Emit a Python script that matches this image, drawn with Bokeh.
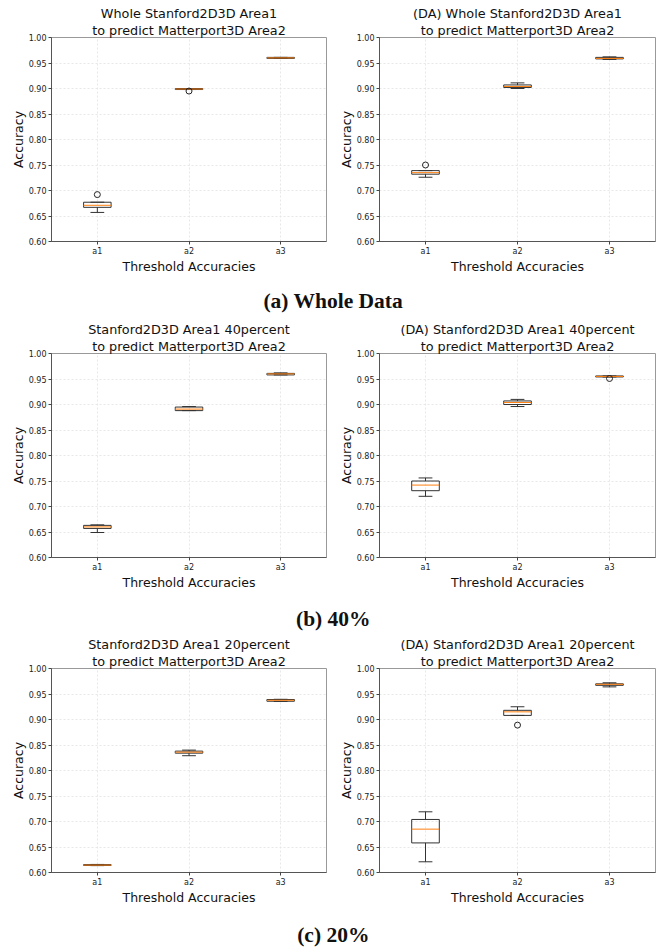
from bokeh.plotting import figure
from bokeh.layouts import column, row
from bokeh.models import Range1d, FixedTicker, Title
from bokeh.core.properties import value
from bokeh.embed import file_html
from bokeh.resources import INLINE

categories = ["a1", "a2", "a3"]

# Panel 1: Whole Stanford2D3D Area1
p1_low = [0.657, 0.898, 0.959]
p1_q1 = [0.667, 0.898, 0.959]
p1_med = [0.671, 0.899, 0.960]
p1_q3 = [0.677, 0.900, 0.961]
p1_high = [0.677, 0.900, 0.961]
p1_out_cat = ["a1", "a2"]
p1_out_val = [0.692, 0.895]

# Panel 2: (DA) Whole
p2_low = [0.726, 0.900, 0.957]
p2_q1 = [0.732, 0.902, 0.958]
p2_med = [0.735, 0.904, 0.959]
p2_q3 = [0.739, 0.907, 0.961]
p2_high = [0.739, 0.911, 0.962]
p2_out_cat = ["a1"]
p2_out_val = [0.750]

# Panel 3: 40percent
p3_low = [0.649, 0.888, 0.958]
p3_q1 = [0.657, 0.888, 0.958]
p3_med = [0.660, 0.891, 0.960]
p3_q3 = [0.663, 0.895, 0.961]
p3_high = [0.664, 0.896, 0.962]
p3_out_cat = []
p3_out_val = []

# Panel 4: (DA) 40percent
p4_low = [0.720, 0.896, 0.954]
p4_q1 = [0.731, 0.900, 0.954]
p4_med = [0.742, 0.904, 0.955]
p4_q3 = [0.750, 0.907, 0.956]
p4_high = [0.756, 0.910, 0.956]
p4_out_cat = ["a3"]
p4_out_val = [0.951]

# Panel 5: 20percent
p5_low = [0.6135, 0.829, 0.9355]
p5_q1 = [0.6138, 0.834, 0.9358]
p5_med = [0.6145, 0.836, 0.9377]
p5_q3 = [0.6155, 0.838, 0.9392]
p5_high = [0.6158, 0.840, 0.9396]
p5_out_cat = []
p5_out_val = []

# Panel 6: (DA) 20percent
p6_low = [0.621, 0.908, 0.964]
p6_q1 = [0.658, 0.908, 0.967]
p6_med = [0.685, 0.915, 0.969]
p6_q3 = [0.704, 0.918, 0.970]
p6_high = [0.719, 0.925, 0.972]
p6_out_cat = ["a2"]
p6_out_val = [0.889]

title_line1 = [
    "Whole Stanford2D3D Area1",
    "(DA) Whole Stanford2D3D Area1",
    "Stanford2D3D Area1 40percent",
    "(DA) Stanford2D3D Area1 40percent",
    "Stanford2D3D Area1 20percent",
    "(DA) Stanford2D3D Area1 20percent",
]
title_line2 = "to predict Matterport3D Area2"
captions = ["(a) Whole Data", "(b) 40%", "(c) 20%"]
y_ticks = [0.60, 0.65, 0.70, 0.75, 0.80, 0.85, 0.90, 0.95, 1.00]

FONT = "DejaVu Sans"
BOX_W = 0.3
CAP_W = 0.15
PANEL_H = 279


def make_panel(line1, low, q1, med, q3, high, out_cat, out_val, left_side):
    if left_side:
        bl, br, w = 51, 4, 330
    else:
        bl, br, w = 49, 4, 329
    p = figure(width=w, height=PANEL_H, output_backend="svg", toolbar_location=None,
               x_range=Range1d(0.5, 3.5), y_range=Range1d(0.6, 1.0),
               min_border_left=bl, min_border_right=br, min_border_top=37,
               min_border_bottom=38)
    for txt in (title_line2, line1):
        t = Title(text=txt, align="center", text_font=FONT, text_font_size="12.8px",
                  text_font_style="normal", text_color="#111111", standoff=0, offset=0)
        p.add_layout(t, "above")

    xs = [categories.index(c) + 1 for c in categories]
    xo = [categories.index(c) + 1 for c in out_cat]

    # whiskers
    p.segment(x0=xs, y0=q3, x1=xs, y1=high, line_color="#333333", line_width=1)
    p.segment(x0=xs, y0=q1, x1=xs, y1=low, line_color="#333333", line_width=1)
    p.segment(x0=[x - CAP_W / 2 for x in xs], y0=high, x1=[x + CAP_W / 2 for x in xs], y1=high,
              line_color="#333333", line_width=1)
    p.segment(x0=[x - CAP_W / 2 for x in xs], y0=low, x1=[x + CAP_W / 2 for x in xs], y1=low,
              line_color="#333333", line_width=1)
    # boxes
    p.quad(left=[x - BOX_W / 2 for x in xs], right=[x + BOX_W / 2 for x in xs],
           bottom=q1, top=q3, fill_color="white", fill_alpha=0.0,
           line_color="#333333", line_width=1)
    # medians
    p.segment(x0=[x - BOX_W / 2 for x in xs], y0=med, x1=[x + BOX_W / 2 for x in xs], y1=med,
              line_color="#ff7f0e", line_width=1)
    # outliers
    if out_val:
        p.scatter(x=xo, y=out_val, marker="circle", size=6, fill_color=None,
                  line_color="#222222", line_width=1)

    p.xaxis.ticker = FixedTicker(ticks=xs)
    p.xaxis.major_label_overrides = {x: c for x, c in zip(xs, categories)}
    p.yaxis.ticker = FixedTicker(ticks=y_ticks)
    p.yaxis.major_label_overrides = {t: f"{t:.2f}" for t in y_ticks}
    for ax in (p.xaxis, p.yaxis):
        ax.major_label_text_font = FONT
        ax.major_label_text_font_size = "8px"
        ax.major_label_text_color = "#222222"
        ax.axis_label_text_font = FONT
        ax.axis_label_text_font_size = "12.5px"
        ax.axis_label_text_font_style = "normal"
        ax.axis_label_text_color = "#111111"
        ax.minor_tick_line_color = None
        ax.major_tick_in = 0
        ax.major_tick_out = 3
        ax.major_tick_line_color = "#444444"
        ax.axis_line_color = "#555555"
        ax.major_label_standoff = 2
    p.xaxis.axis_label = "Threshold Accuracies"
    p.yaxis.axis_label = "Accuracy"
    p.xaxis.axis_label_standoff = 0
    p.yaxis.axis_label_standoff = 0

    p.grid.grid_line_color = "#e6e6e6"
    p.grid.grid_line_dash = "2 2"
    p.grid.grid_line_alpha = 0.9
    p.xgrid.ticker = FixedTicker(ticks=xs)
    p.ygrid.ticker = FixedTicker(ticks=y_ticks)
    p.outline_line_color = "#999999"
    p.outline_line_width = 1
    p.background_fill_color = "white"
    p.border_fill_color = "white"
    return p


def make_caption(text, h, ypos):
    c = figure(width=659, height=h, output_backend="svg", toolbar_location=None,
               x_range=Range1d(0, 1), y_range=Range1d(0, 1),
               x_axis_location=None, y_axis_location=None,
               min_border=0)
    c.grid.visible = False
    c.outline_line_color = None
    c.text(x=[0.505], y=[ypos], text=[text], text_align="center", text_baseline="middle",
           text_font=value("Liberation Serif"), text_font_style="bold",
           text_font_size="21.5px", text_color="#111111")
    return c


panels = [
    (p1_low, p1_q1, p1_med, p1_q3, p1_high, p1_out_cat, p1_out_val),
    (p2_low, p2_q1, p2_med, p2_q3, p2_high, p2_out_cat, p2_out_val),
    (p3_low, p3_q1, p3_med, p3_q3, p3_high, p3_out_cat, p3_out_val),
    (p4_low, p4_q1, p4_med, p4_q3, p4_high, p4_out_cat, p4_out_val),
    (p5_low, p5_q1, p5_med, p5_q3, p5_high, p5_out_cat, p5_out_val),
    (p6_low, p6_q1, p6_med, p6_q3, p6_high, p6_out_cat, p6_out_val),
]

figs = [make_panel(title_line1[i], *panels[i], left_side=(i % 2 == 0)) for i in range(6)]

cap_a = make_caption(captions[0], 37, 0.43)
cap_b = make_caption(captions[1], 36, 0.36)
cap_c = make_caption(captions[2], 38, 0.36)

layout = column(row(figs[0], figs[1], spacing=0), cap_a,
                row(figs[2], figs[3], spacing=0), cap_b,
                row(figs[4], figs[5], spacing=0), cap_c, spacing=0)

open("out.html", "w").write(file_html(layout, INLINE))
